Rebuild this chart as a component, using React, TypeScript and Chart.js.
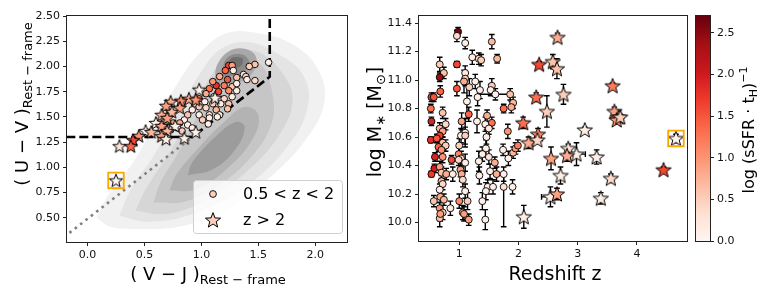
import React, { useEffect, useRef } from 'react';
import { Chart, registerables } from 'chart.js';
Chart.register(...registerables);

const FONT = '"DejaVu Sans", sans-serif';
const CB_MAX = 2.7;

// ---------------- Left panel: UVJ diagram ----------------
const uvjTicksX = [0, 0.5, 1, 1.5, 2];
const uvjTicksY = [0.5, 0.75, 1, 1.25, 1.5, 1.75, 2, 2.25, 2.5];

// 0.5 < z < 2 galaxies
const circVJ = [1.59, 1.47, 1.42, 1.24, 1.27, 1.21, 1.28, 1.37, 1.39, 1.47,
  1.40, 1.16, 1.23, 1.31, 1.13, 1.20, 1.27, 1.31, 1.10, 1.07,
  1.15, 1.24, 1.31, 1.04, 1.11, 1.20, 1.27, 0.98, 1.03, 1.10,
  1.17, 1.24, 0.94, 0.98, 1.04, 1.13, 1.23, 1.16, 1.07, 0.92,
  0.88, 0.98, 1.07, 1.01, 1.14, 1.06, 0.85, 0.81, 0.75, 0.88,
  0.79, 0.73, 0.92, 0.83, 0.69, 0.66];
const circUV = [2.04, 2.02, 2.00, 2.01, 2.01, 1.96, 1.96, 1.92, 1.90, 1.86,
  1.87, 1.90, 1.87, 1.89, 1.81, 1.81, 1.80, 1.83, 1.85, 1.78,
  1.75, 1.76, 1.76, 1.73, 1.70, 1.68, 1.70, 1.68, 1.65, 1.63,
  1.63, 1.63, 1.63, 1.60, 1.59, 1.57, 1.58, 1.52, 1.52, 1.57,
  1.52, 1.52, 1.49, 1.47, 1.50, 1.43, 1.47, 1.44, 1.44, 1.42,
  1.39, 1.37, 1.39, 1.36, 1.41, 1.36];
const circC = [0.1, 0.6, 0.5, 1.6, 0.9, 1.4, 0.1, 0.1, 0.5, 0.4,
  0.1, 0.8, 1.5, 0.6, 1.8, 1.2, 0.6, 0.1, 1.0, 1.3,
  1.6, 1.0, 0.1, 0.8, 0.1, 0.4, 0.1, 1.2, 0.1, 0.5,
  0.1, 0.6, 0.6, 0.5, 0.4, 0.7, 0.6, 0.1, 0.4, 0.1,
  0.6, 0.1, 0.1, 0.5, 0.1, 0.1, 0.1, 0.8, 0.9, 0.1,
  0.1, 0.1, 0.1, 0.5, 0.6, 0.1];

// z > 2 galaxies
const starVJ = [0.98, 0.89, 0.95, 0.82, 0.73, 0.69, 0.81, 0.74, 0.65, 0.70,
  0.60, 0.65, 0.77, 0.51, 0.56, 0.70, 0.65, 0.69, 0.85, 0.95,
  0.45, 0.40, 0.38, 0.28, 1.12, 0.25];
const starUV = [1.77, 1.68, 1.67, 1.66, 1.65, 1.61, 1.59, 1.55, 1.52, 1.49,
  1.44, 1.41, 1.41, 1.36, 1.35, 1.36, 1.31, 1.28, 1.29, 1.35,
  1.31, 1.27, 1.21, 1.21, 1.69, 0.87];
const starC = [0.1, 0.8, 1.0, 1.1, 0.8, 0.9, 0.9, 0.7, 0.8, 0.9,
  0.1, 0.9, 0.1, 0.1, 0.7, 0.7, 0.9, 0.1, 0.1, 0.1,
  1.0, 1.6, 1.4, 0.3, 0.1, 0.05];

const hlVJ = [0.25];
const hlUV = [0.87];

// quiescent selection box (dashed) and its extension (dotted)
const boxVJ = [-0.3, 0.92, 1.6, 1.6];
const boxUV = [1.3, 1.3, 1.898, 2.7];
const dotVJ = [-0.3, 0.92];
const dotUV = [0.226, 1.3];

// density contours of the parent sample, light -> dark
const kdeA = [[0.08, 0.50], [0.20, 0.41], [0.45, 0.39], [0.80, 0.41], [1.20, 0.57], [1.60, 0.90], [1.92, 1.28], [2.08, 1.65], [2.02, 1.98], [1.80, 2.22], [1.50, 2.33], [1.22, 2.33], [1.00, 2.15], [0.80, 1.85], [0.60, 1.45], [0.40, 1.05], [0.18, 0.72]];
const kdeB = [[0.28, 0.52], [0.55, 0.46], [0.95, 0.55], [1.40, 0.82], [1.75, 1.20], [1.93, 1.58], [1.90, 1.90], [1.68, 2.12], [1.42, 2.24], [1.18, 2.18], [1.00, 1.95], [0.82, 1.60], [0.60, 1.15], [0.38, 0.78]];
const kdeC = [[0.42, 0.57], [0.70, 0.54], [1.05, 0.68], [1.42, 0.98], [1.70, 1.35], [1.80, 1.68], [1.70, 1.95], [1.50, 2.14], [1.27, 2.14], [1.08, 1.90], [0.92, 1.55], [0.72, 1.15], [0.52, 0.80]];
const kdeD = [[0.58, 0.65], [0.85, 0.66], [1.15, 0.82], [1.45, 1.12], [1.62, 1.45], [1.62, 1.75], [1.52, 2.02], [1.30, 2.08], [1.12, 1.90], [0.98, 1.55], [0.80, 1.15], [0.64, 0.85]];
const kdeE = [[0.72, 0.77], [0.95, 0.78], [1.22, 0.98], [1.45, 1.28], [1.50, 1.52], [1.38, 1.60], [1.20, 1.45], [0.98, 1.20], [0.78, 0.93]];
const kdeE2 = [[1.12, 1.82], [1.35, 1.85], [1.48, 2.00], [1.45, 2.14], [1.28, 2.17], [1.14, 2.02]];
const kdeF = [[0.88, 0.92], [1.10, 0.98], [1.30, 1.18], [1.38, 1.40], [1.30, 1.45], [1.12, 1.30], [0.92, 1.05]];
const kdeF2 = [[1.18, 1.90], [1.35, 1.93], [1.42, 2.04], [1.35, 2.12], [1.22, 2.08]];
const kdeG2 = [[1.24, 1.98], [1.34, 2.00], [1.36, 2.08], [1.26, 2.08]];
const kdeLevels = [kdeA, kdeB, kdeC, kdeD, kdeE, kdeE2, kdeF, kdeF2, kdeG2];
const kdeColors = ['#f1f1f1', '#e4e4e4', '#d6d6d6', '#c6c6c6', '#b3b3b3', '#a8a8a8', '#9c9c9c', '#8a8a8a', '#707070'];

// ---------------- Right panel: stellar mass vs redshift ----------------
const mzTicksX = [1, 2, 3, 4];
const mzTicksY = [10.0, 10.2, 10.4, 10.6, 10.8, 11.0, 11.2, 11.4];

const zCirc = [0.98, 0.96, 1.10, 1.55, 1.22, 1.33, 1.37, 1.64, 0.96, 0.67,
  0.74, 0.67, 1.10, 1.10, 1.27, 0.96, 1.08, 1.17, 1.55, 1.53,
  1.35, 0.68, 0.53, 0.57, 1.61, 1.86, 1.31, 1.13, 1.91, 1.88,
  1.75, 0.52, 0.72, 1.16, 0.53, 1.04, 1.30, 1.47, 1.55, 1.44,
  0.77, 0.67, 0.72, 1.50, 1.82, 1.10, 0.67, 0.52, 0.62, 0.72,
  0.77, 1.03, 1.10, 1.00, 1.46, 0.65, 0.70, 0.59, 0.72, 0.99,
  1.03, 1.45, 1.39, 1.50, 1.74, 1.91, 1.95, 1.99, 0.87, 0.99,
  1.33, 1.60, 1.83, 1.10, 0.53, 0.58, 0.67, 0.70, 0.78, 0.89,
  1.02, 1.04, 1.34, 1.52, 1.63, 1.75, 0.70, 0.72, 1.06, 1.48,
  1.57, 1.75, 1.90, 0.67, 1.10, 1.45, 0.57, 0.68, 0.74, 0.67,
  0.85, 0.72, 1.00, 1.06, 1.14, 1.16, 1.39, 1.44, 0.67, 0.68,
  1.08];
const mCirc = [11.34, 11.31, 11.26, 11.27, 11.16, 11.15, 11.14, 11.15, 11.11, 11.11,
  11.05, 11.02, 11.05, 11.01, 10.99, 10.94, 10.99, 10.95, 10.96, 10.93,
  10.93, 10.92, 10.88, 10.88, 10.90, 10.90, 10.88, 10.85, 10.84, 10.81,
  10.80, 10.80, 10.77, 10.76, 10.71, 10.71, 10.71, 10.75, 10.70, 10.69,
  10.69, 10.66, 10.64, 10.66, 10.64, 10.63, 10.61, 10.58, 10.59, 10.56,
  10.54, 10.61, 10.61, 10.54, 10.60, 10.53, 10.51, 10.46, 10.46, 10.48,
  10.45, 10.52, 10.48, 10.46, 10.51, 10.49, 10.52, 10.54, 10.44, 10.44,
  10.43, 10.42, 10.45, 10.42, 10.34, 10.38, 10.39, 10.35, 10.34, 10.34,
  10.37, 10.34, 10.33, 10.36, 10.34, 10.34, 10.29, 10.27, 10.30, 10.25,
  10.25, 10.25, 10.25, 10.23, 10.22, 10.22, 10.15, 10.18, 10.16, 10.10,
  10.10, 10.07, 10.15, 10.07, 10.15, 10.02, 10.15, 10.02, 10.03, 10.06,
  10.06];
const cCirc = [2.6, 0.4, 0.1, 0.7, 0.1, 0.4, 0.5, 0.7, 1.6, 0.5,
  0.6, 2.4, 0.2, 0.5, 0.1, 1.5, 0.8, 0.5, 0.5, 0.1,
  0.1, 1.4, 1.7, 1.5, 0.05, 0.6, 0.1, 0.1, 0.7, 0.8,
  1.3, 1.3, 0.6, 1.4, 1.9, 0.9, 0.1, 0.8, 1.3, 0.1,
  0.4, 0.7, 0.9, 0.2, 1.0, 0.1, 1.7, 1.8, 1.5, 0.6,
  0.5, 0.1, 0.5, 0.5, 0.1, 1.4, 1.0, 1.9, 1.0, 1.1,
  0.5, 0.1, 0.1, 0.3, 0.1, 0.7, 0.9, 1.2, 1.6, 0.4,
  0.1, 0.8, 0.1, 0.1, 1.7, 2.0, 0.9, 0.6, 0.8, 0.1,
  0.9, 0.8, 0.1, 0.1, 0.8, 0.1, 0.7, 0.4, 0.4, 0.1,
  0.1, 0.3, 0.1, 0.1, 0.1, 0.1, 0.6, 0.8, 0.7, 1.0,
  0.1, 0.5, 1.1, 0.7, 0.5, 0.9, 0.1, 0.1, 0.6, 0.9,
  0.9];
const mErrLoCirc = [0.03, 0.04, 0.04, 0.05, 0.05, 0.04, 0.04, 0.03, 0.02, 0.05,
  0.04, 0.03, 0.05, 0.05, 0.05, 0.05, 0.08, 0.06, 0.05, 0.04,
  0.06, 0.04, 0.03, 0.03, 0.04, 0.04, 0.06, 0.12, 0.04, 0.04,
  0.03, 0.03, 0.04, 0.05, 0.03, 0.06, 0.08, 0.04, 0.04, 0.05,
  0.04, 0.04, 0.04, 0.04, 0.05, 0.10, 0.03, 0.02, 0.03, 0.04,
  0.04, 0.05, 0.06, 0.05, 0.05, 0.03, 0.04, 0.03, 0.04, 0.05,
  0.05, 0.06, 0.05, 0.05, 0.04, 0.04, 0.04, 0.04, 0.03, 0.04,
  0.07, 0.04, 0.05, 0.06, 0.02, 0.03, 0.04, 0.04, 0.04, 0.05,
  0.05, 0.05, 0.06, 0.05, 0.05, 0.05, 0.04, 0.04, 0.05, 0.05,
  0.05, 0.28, 0.05, 0.04, 0.05, 0.06, 0.04, 0.04, 0.04, 0.04,
  0.05, 0.05, 0.05, 0.05, 0.06, 0.04, 0.06, 0.07, 0.06, 0.05,
  0.05];
const mErrHiCirc = [0.03, 0.04, 0.04, 0.05, 0.05, 0.04, 0.04, 0.03, 0.02, 0.05,
  0.04, 0.03, 0.05, 0.05, 0.05, 0.05, 0.08, 0.06, 0.05, 0.04,
  0.06, 0.04, 0.03, 0.03, 0.04, 0.04, 0.06, 0.12, 0.04, 0.04,
  0.03, 0.03, 0.04, 0.05, 0.03, 0.06, 0.08, 0.04, 0.04, 0.05,
  0.04, 0.04, 0.04, 0.04, 0.05, 0.10, 0.03, 0.02, 0.03, 0.04,
  0.04, 0.05, 0.06, 0.05, 0.05, 0.03, 0.04, 0.03, 0.04, 0.05,
  0.05, 0.06, 0.05, 0.05, 0.04, 0.04, 0.04, 0.04, 0.03, 0.04,
  0.07, 0.04, 0.05, 0.06, 0.02, 0.03, 0.04, 0.04, 0.04, 0.05,
  0.05, 0.05, 0.06, 0.05, 0.05, 0.05, 0.04, 0.04, 0.05, 0.05,
  0.05, 0.09, 0.05, 0.04, 0.05, 0.06, 0.04, 0.04, 0.04, 0.04,
  0.05, 0.05, 0.05, 0.05, 0.06, 0.04, 0.06, 0.07, 0.06, 0.05,
  0.05];
const zErrCircIdx = [24];
const zErrCircVal = [0.26];

const zStar = [2.66, 2.35, 2.58, 2.65, 3.59, 2.76, 2.30, 2.48, 3.62, 3.69,
  3.66, 3.72, 2.08, 3.12, 2.33, 2.17, 2.32, 4.66, 2.84, 2.98,
  2.82, 2.55, 3.32, 4.45, 2.71, 3.56, 2.54, 2.65, 3.39, 2.09];
const mStar = [11.30, 11.11, 11.13, 11.08, 10.96, 10.90, 10.88, 10.78, 10.78, 10.74,
  10.72, 10.74, 10.70, 10.65, 10.62, 10.56, 10.58, 10.59, 10.52, 10.48,
  10.47, 10.45, 10.46, 10.37, 10.33, 10.31, 10.18, 10.20, 10.17, 10.04];
const cStar = [0.8, 1.6, 0.6, 0.6, 1.2, 0.5, 1.3, 0.5, 0.9, 0.7,
  1.0, 0.5, 1.3, 0.1, 1.1, 0.8, 0.4, 0.05, 0.3, 0.1,
  0.8, 0.9, 0.1, 1.6, 0.1, 0.4, 0.1, 0.9, 0.1, 0.1];
const mErrStar = [0.03, 0.02, 0.05, 0.07, 0.02, 0.07, 0.03, 0.11, 0.03, 0.03,
  0.02, 0.02, 0.04, 0.02, 0.04, 0.04, 0.02, 0.03, 0.03, 0.08,
  0.04, 0.08, 0.05, 0.02, 0.06, 0.03, 0.07, 0.04, 0.04, 0.08];
const zErrStarIdx = [19, 26];
const zErrStarVal = [0.15, 0.15];

const hlZ = [4.66];
const hlM = [10.59];

const cbTicks = [0, 0.5, 1, 1.5, 2, 2.5];

// ---------------- helpers ----------------
const REDS = ['#fff5f0', '#fee0d2', '#fcbba1', '#fc9272', '#fb6a4a', '#ef3b2c', '#cb181d', '#a50f15', '#67000d'];
function hexRgb(h: string) {
  return [parseInt(h.slice(1, 3), 16), parseInt(h.slice(3, 5), 16), parseInt(h.slice(5, 7), 16)];
}
function cmap(v: number) {
  const t = Math.max(0, Math.min(1, v / CB_MAX));
  const n = REDS.length - 1;
  const p = t * n;
  const i = Math.min(n - 1, Math.floor(p));
  const f = p - i;
  const a = hexRgb(REDS[i]);
  const b = hexRgb(REDS[i + 1]);
  const c = a.map((x, k) => Math.round(x + (b[k] - x) * f));
  return `rgb(${c[0]},${c[1]},${c[2]})`;
}

const starCache = new Map<string, HTMLCanvasElement>();
function starImg(fill: string, r: number) {
  const key = fill + '|' + r;
  const hit = starCache.get(key);
  if (hit) return hit;
  const s = Math.ceil(2 * r + 4);
  const c = document.createElement('canvas');
  c.width = s;
  c.height = s;
  const g = c.getContext('2d')!;
  const cx = s / 2, cy = s / 2 + r * 0.08;
  g.beginPath();
  for (let i = 0; i < 10; i++) {
    const a = -Math.PI / 2 + (i * Math.PI) / 5;
    const rr = i % 2 === 0 ? r : r * 0.42;
    g.lineTo(cx + rr * Math.cos(a), cy + rr * Math.sin(a));
  }
  g.closePath();
  g.fillStyle = fill;
  g.fill();
  g.lineWidth = 1;
  g.lineJoin = 'miter';
  g.strokeStyle = '#000';
  g.stroke();
  starCache.set(key, c);
  return c;
}

type Run = [string, number, number];
function drawRuns(ctx: CanvasRenderingContext2D, runs: Run[], x: number, y: number, rotate: boolean) {
  ctx.save();
  ctx.translate(x, y);
  if (rotate) ctx.rotate(-Math.PI / 2);
  ctx.textAlign = 'left';
  ctx.textBaseline = 'alphabetic';
  ctx.fillStyle = '#000';
  let total = 0;
  const ws = runs.map(([t, s]) => {
    ctx.font = `${s}px ${FONT}`;
    const w = ctx.measureText(t).width;
    total += w;
    return w;
  });
  let cx = -total / 2;
  runs.forEach(([t, s, dy], i) => {
    ctx.font = `${s}px ${FONT}`;
    ctx.fillText(t, cx, dy);
    cx += ws[i];
  });
  ctx.restore();
}

function frame(chart: any) {
  const { ctx, chartArea: a } = chart;
  ctx.save();
  ctx.strokeStyle = '#222';
  ctx.lineWidth = 1;
  ctx.strokeRect(Math.round(a.left) - 0.5, Math.round(a.top) - 0.5, Math.round(a.right - a.left) + 1, Math.round(a.bottom - a.top) + 1);
  ctx.restore();
}

function axisOpts(min: number, max: number, ticks: number[], dec: number, size: number, horizontal: boolean, extra: any = {}) {
  return {
    type: 'linear',
    min,
    max,
    afterBuildTicks: (s: any) => { s.ticks = ticks.map((v) => ({ value: v })); },
    afterFit: (s: any) => { if (horizontal) s.height = size; else s.width = size; },
    grid: { drawOnChartArea: false, drawTicks: true, tickLength: 4, color: '#222', tickColor: '#222', lineWidth: 1 },
    border: { display: false },
    ticks: {
      autoSkip: false,
      maxRotation: 0,
      padding: 3,
      color: '#111',
      font: { family: FONT, size: 11 },
      callback: (v: any) => Number(v).toFixed(dec),
    },
    ...extra,
  };
}

function pts(xs: number[], ys: number[]) {
  return xs.map((x, i) => ({ x, y: ys[i] }));
}

function leftConfig(): any {
  const kdeSets = kdeLevels.map((poly, k) => ({
    data: [...poly, poly[0]].map(([x, y]) => ({ x, y })),
    showLine: true,
    fill: 'shape',
    tension: 0.4,
    borderWidth: 0,
    borderColor: 'rgba(0,0,0,0)',
    backgroundColor: kdeColors[k],
    pointRadius: 0,
    order: 100 - k,
  }));
  return {
    type: 'scatter',
    data: {
      datasets: [
        ...kdeSets,
        {
          data: pts(dotVJ, dotUV), showLine: true, fill: false, tension: 0, pointRadius: 0,
          borderColor: '#808080', borderWidth: 2.6, borderDash: [2.6, 4.2], borderCapStyle: 'butt', order: 51,
        },
        {
          data: pts(boxVJ, boxUV), showLine: true, fill: false, tension: 0, pointRadius: 0,
          borderColor: '#000', borderWidth: 2.6, borderDash: [9, 4], order: 50,
        },
        {
          data: pts(circVJ, circUV), pointRadius: 3.3, pointBackgroundColor: circC.map(cmap),
          pointBorderColor: '#000', pointBorderWidth: 0.9, order: 20,
        },
        {
          data: pts(starVJ, starUV), pointRadius: 7,
          pointStyle: (c: any) => starImg(cmap(starC[c.dataIndex] ?? 0), 7), order: 10,
        },
        {
          data: pts(hlVJ, hlUV), pointStyle: 'rect', pointRadius: 11, pointBackgroundColor: 'rgba(0,0,0,0)',
          pointBorderColor: '#ffa500', pointBorderWidth: 1.8, order: 5,
        },
      ],
    },
    options: {
      responsive: false,
      animation: false,
      devicePixelRatio: 1,
      layout: { padding: { left: 0, right: 10, top: 16, bottom: 0 } },
      plugins: { legend: { display: false }, tooltip: { enabled: false } },
      events: [],
      scales: {
        x: axisOpts(-0.18, 2.28, uvjTicksX, 1, 55, true),
        y: axisOpts(0.26, 2.5, uvjTicksY, 2, 67, false),
      },
    },
    plugins: [
      {
        id: 'leftDecor',
        afterDatasetsDraw(chart: any) {
          const ctx = chart.ctx as CanvasRenderingContext2D;
          // legend
          ctx.save();
          const lx = 193, ly = 180, lw = 149, lh = 53;
          ctx.beginPath();
          (ctx as any).roundRect ? (ctx as any).roundRect(lx + 0.5, ly + 0.5, lw, lh, 3) : ctx.rect(lx + 0.5, ly + 0.5, lw, lh);
          ctx.fillStyle = 'rgba(255,255,255,0.82)';
          ctx.fill();
          ctx.strokeStyle = '#cfcfcf';
          ctx.lineWidth = 1;
          ctx.stroke();
          ctx.beginPath();
          ctx.arc(213, 194, 3.4, 0, Math.PI * 2);
          ctx.fillStyle = cmap(0.5);
          ctx.fill();
          ctx.strokeStyle = '#000';
          ctx.lineWidth = 0.9;
          ctx.stroke();
          const st = starImg(cmap(0.5), 8);
          ctx.drawImage(st, 213 - st.width / 2, 220 - st.height / 2);
          ctx.fillStyle = '#000';
          ctx.font = `16px ${FONT}`;
          ctx.textBaseline = 'middle';
          ctx.textAlign = 'left';
          ctx.fillText('0.5 < z < 2', 243, 195);
          ctx.fillText('z > 2', 243, 221);
          ctx.restore();
          frame(chart);
          drawRuns(ctx, [['( V − J )', 18, 0], ['Rest − frame', 13, 4]], 208, 280, false);
          drawRuns(ctx, [['( U − V )', 18, 0], ['Rest − frame', 13, 4]], 28, 104, true);
        },
      },
    ],
  };
}

function rightConfig(): any {
  return {
    type: 'scatter',
    data: {
      datasets: [
        {
          data: pts(zCirc, mCirc), pointRadius: 3.5, pointBackgroundColor: cCirc.map(cmap),
          pointBorderColor: '#000', pointBorderWidth: 0.9, order: 20,
        },
        {
          data: pts(zStar, mStar), pointRadius: 8,
          pointStyle: (c: any) => starImg(cmap(cStar[c.dataIndex] ?? 0), 8), order: 10,
        },
        {
          data: pts(hlZ, hlM), pointStyle: 'rect', pointRadius: 11, pointBackgroundColor: 'rgba(0,0,0,0)',
          pointBorderColor: '#ffa500', pointBorderWidth: 1.8, order: 5,
        },
      ],
    },
    options: {
      responsive: false,
      animation: false,
      devicePixelRatio: 1,
      layout: { padding: { left: 0, right: 8, top: 16, bottom: 0 } },
      plugins: { legend: { display: false }, tooltip: { enabled: false } },
      events: [],
      scales: {
        x: axisOpts(0.32, 4.85, mzTicksX, 0, 56, true),
        y: axisOpts(9.87, 11.45, mzTicksY, 1, 59, false),
      },
    },
    plugins: [
      {
        id: 'errbars',
        beforeDatasetsDraw(chart: any) {
          const ctx = chart.ctx as CanvasRenderingContext2D;
          const xs = chart.scales.x, ys = chart.scales.y;
          const a = chart.chartArea;
          ctx.save();
          ctx.beginPath();
          ctx.rect(a.left, a.top, a.right - a.left, a.bottom - a.top);
          ctx.clip();
          ctx.strokeStyle = '#000';
          ctx.lineWidth = 1.4;
          const cap = 2.8;
          const bar = (x: number, y: number, lo: number, hi: number, xe: number) => {
            const px = xs.getPixelForValue(x);
            const py = ys.getPixelForValue(y);
            const y1 = ys.getPixelForValue(y - lo);
            const y2 = ys.getPixelForValue(y + hi);
            ctx.beginPath();
            ctx.moveTo(px, y1); ctx.lineTo(px, y2);
            ctx.moveTo(px - cap, y1); ctx.lineTo(px + cap, y1);
            ctx.moveTo(px - cap, y2); ctx.lineTo(px + cap, y2);
            if (xe > 0) {
              const x1 = xs.getPixelForValue(x - xe);
              const x2 = xs.getPixelForValue(x + xe);
              ctx.moveTo(x1, py); ctx.lineTo(x2, py);
              ctx.moveTo(x1, py - cap); ctx.lineTo(x1, py + cap);
              ctx.moveTo(x2, py - cap); ctx.lineTo(x2, py + cap);
            }
            ctx.stroke();
          };
          zCirc.forEach((z, i) => {
            const k = zErrCircIdx.indexOf(i);
            bar(z, mCirc[i], mErrLoCirc[i], mErrHiCirc[i], k >= 0 ? zErrCircVal[k] : 0);
          });
          zStar.forEach((z, i) => {
            const k = zErrStarIdx.indexOf(i);
            bar(z, mStar[i], mErrStar[i], mErrStar[i], k >= 0 ? zErrStarVal[k] : 0);
          });
          ctx.restore();
        },
        afterDatasetsDraw(chart: any) {
          const ctx = chart.ctx as CanvasRenderingContext2D;
          frame(chart);
          drawRuns(ctx, [['Redshift z', 19, 0]], 555 - 360, 280, false);
          drawRuns(ctx, [['log M', 19, 0], ['∗', 13, 4], [' [M', 19, 0], ['⊙', 13, 4], [']', 19, 0]], 381 - 360, 122, true);
        },
      },
    ],
  };
}

function cbConfig(): any {
  return {
    type: 'scatter',
    data: { datasets: [] },
    options: {
      responsive: false,
      animation: false,
      devicePixelRatio: 1,
      layout: { padding: { left: 6, right: 0, top: 16, bottom: 56 } },
      plugins: { legend: { display: false }, tooltip: { enabled: false } },
      events: [],
      scales: {
        x: { type: 'linear', display: false, min: 0, max: 1 },
        y: axisOpts(0, CB_MAX, cbTicks, 1, 60, false, { position: 'right' }),
      },
    },
    plugins: [
      {
        id: 'cbar',
        afterDatasetsDraw(chart: any) {
          const ctx = chart.ctx as CanvasRenderingContext2D;
          const a = chart.chartArea;
          const ys = chart.scales.y;
          const g = ctx.createLinearGradient(0, ys.getPixelForValue(0), 0, ys.getPixelForValue(CB_MAX));
          REDS.forEach((c, i) => g.addColorStop(i / (REDS.length - 1), c));
          ctx.save();
          ctx.fillStyle = g;
          ctx.fillRect(a.left, a.top, a.right - a.left, a.bottom - a.top);
          ctx.restore();
          frame(chart);
          drawRuns(ctx, [['log (sSFR · t', 16, 0], ['H', 11, 3], [')', 16, 0], ['−1', 11, -7]], 754 - 690, 130, true);
        },
      },
    ],
  };
}

export default function App() {
  const lRef = useRef<HTMLCanvasElement>(null);
  const rRef = useRef<HTMLCanvasElement>(null);
  const cRef = useRef<HTMLCanvasElement>(null);
  useEffect(() => {
    const charts = [
      new Chart(lRef.current!, leftConfig()),
      new Chart(rRef.current!, rightConfig()),
      new Chart(cRef.current!, cbConfig()),
    ];
    return () => charts.forEach((c) => c.destroy());
  }, []);
  return (
    <div style={{ position: 'fixed', left: 0, top: 0, width: 770, height: 297, background: '#fff', overflow: 'hidden' }}>
      <canvas ref={lRef} width={360} height={297} style={{ position: 'absolute', left: 0, top: 0, width: 360, height: 297 }} />
      <canvas ref={rRef} width={340} height={297} style={{ position: 'absolute', left: 360, top: 0, width: 340, height: 297 }} />
      <canvas ref={cRef} width={80} height={297} style={{ position: 'absolute', left: 690, top: 0, width: 80, height: 297 }} />
    </div>
  );
}
